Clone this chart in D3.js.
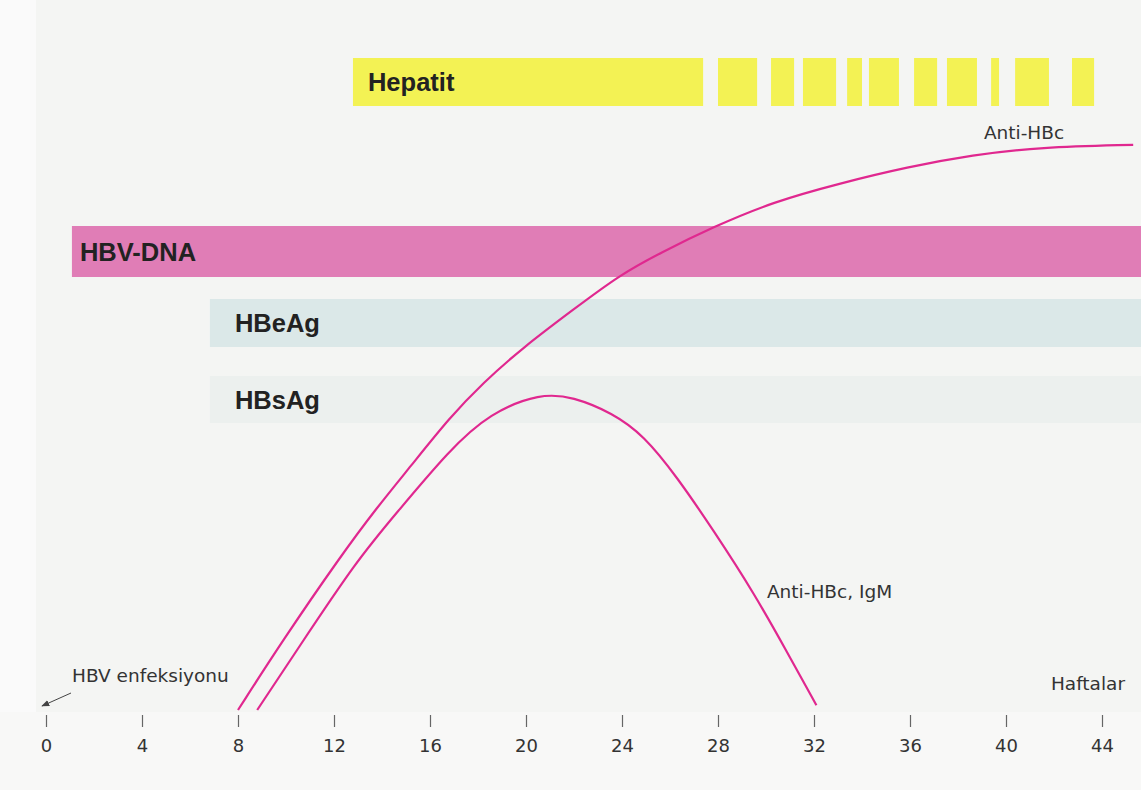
<!DOCTYPE html>
<html>
<head>
<meta charset="utf-8">
<script src="https://cdn.jsdelivr.net/npm/d3@7"></script>
<style>
  html, body { margin: 0; padding: 0; background: #f4f5f3; }
  svg { display: block; font-family: "DejaVu Sans", sans-serif; }
</style>
</head>
<body>
<script>
// weeks after infection
const weekTicks = [0, 4, 8, 12, 16, 20, 24, 28, 32, 36, 40, 44];

// marker bars: [start week, end week]
const rows = ["Hepatit", "HBV-DNA", "HBeAg", "HBsAg"];
const hepatitSpans = [[12.79, 27.38], [28.0, 29.63], [30.21, 31.17], [31.54, 32.92], [33.38, 34.0],
  [34.29, 35.54], [36.17, 37.13], [37.54, 38.79], [39.38, 39.71], [40.38, 41.79], [42.75, 43.67]];
const dnaSpans = [[1.08, 45.8]];
const heSpans = [[6.83, 45.8]];
const hsSpans = [[6.83, 45.8]];

// antibody curves (relative level 0-100)
const antiHBcWeeks = [8.0, 9.88, 12.25, 13.8, 15.17, 16.83, 18.2, 19.9, 21.96, 23.9, 25.6, 27.8, 30.3, 33.1, 35.9, 38.6, 41.4, 45.3];
const antiHBcLevel = [0, 11.7, 25.5, 33.8, 40.5, 48.8, 54.5, 60.5, 66.7, 72.5, 76.2, 80.5, 84.7, 87.8, 90.5, 92.5, 93.8, 94.2];
const igmWeeks = [8.8, 10.46, 12.96, 14.6, 16.8, 18.5, 20.6, 21.96, 23.6, 24.9, 26.3, 27.8, 29.5, 30.9, 32.1];
const igmLevel = [0, 10, 25, 32.8, 43.3, 49.5, 52.8, 52.2, 49.5, 45.8, 38.8, 30, 19.5, 9.5, 0.8];

const width = 1141, height = 790;

const x = d3.scaleLinear().domain([0, 44]).range([46, 1102]);
const y = d3.scaleLinear().domain([0, 100]).range([710, 110]);
const rowY = d3.scaleOrdinal().domain(rows).range([58, 226, 299, 376]);
const rowH = d3.scaleOrdinal().domain(rows).range([48, 51, 48, 47]);
const rowFill = d3.scaleOrdinal().domain(rows).range(["#f3f254", "#e07db6", "#dbe8e8", "#ecf0ee"]);

const svg = d3.select("body").append("svg")
  .attr("width", width)
  .attr("height", height);

// paper tones
svg.append("rect").attr("width", width).attr("height", height).attr("fill", "#f4f5f3");
svg.append("rect").attr("width", 36).attr("height", height).attr("fill", "#fafafa");
svg.append("rect").attr("y", 712).attr("width", width).attr("height", height - 712).attr("fill", "#f8f8f7");

// bars
const spans = { "Hepatit": hepatitSpans, "HBV-DNA": dnaSpans, "HBeAg": heSpans, "HBsAg": hsSpans };
rows.forEach(r => {
  const g = svg.append("g");
  g.selectAll("rect").data(spans[r]).join("rect")
    .attr("x", d => x(d[0]))
    .attr("width", d => x(d[1]) - x(d[0]))
    .attr("y", rowY(r))
    .attr("height", rowH(r))
    .attr("fill", rowFill(r));
  g.append("text")
    .attr("x", x(spans[r][0][0]) + (r === "HBV-DNA" ? 8 : 25) - (r === "Hepatit" ? 10 : 0))
    .attr("y", rowY(r) + rowH(r) / 2 + 9)
    .attr("font-family", "Liberation Sans, Arial, sans-serif")
    .attr("font-size", 25.5)
    .attr("font-weight", "bold")
    .attr("fill", "#222")
    .text(r);
});

// curves
const line = d3.line()
  .x(d => x(d[0]))
  .y(d => y(d[1]))
  .curve(d3.curveBasis);

svg.append("path")
  .attr("d", line(d3.zip(antiHBcWeeks, antiHBcLevel)))
  .attr("fill", "none").attr("stroke", "#e0288f").attr("stroke-width", 2.2);
svg.append("path")
  .attr("d", line(d3.zip(igmWeeks, igmLevel)))
  .attr("fill", "none").attr("stroke", "#e0288f").attr("stroke-width", 2.2);

svg.append("text").attr("x", x(39.08)).attr("y", y(95.2))
  .attr("font-size", 18.5).attr("fill", "#333").text("Anti-HBc");
svg.append("text").attr("x", x(30.04)).attr("y", y(18.7))
  .attr("font-size", 18.5).attr("fill", "#333").text("Anti-HBc, IgM");

// x axis
const axis = svg.append("g")
  .attr("transform", "translate(0,715)")
  .call(d3.axisBottom(x).tickValues(weekTicks).tickSize(12).tickPadding(12));
axis.select(".domain").remove();
axis.selectAll(".tick line").attr("stroke", "#666").attr("stroke-width", 1.2);
axis.selectAll(".tick text").attr("font-size", 18).attr("fill", "#333")
  .attr("font-family", "DejaVu Sans, sans-serif");

svg.append("text").attr("x", 1125).attr("y", 690).attr("text-anchor", "end")
  .attr("font-size", 18.5).attr("fill", "#333").text("Haftalar");

svg.append("text").attr("x", 72).attr("y", 682)
  .attr("font-size", 18.5).attr("fill", "#333").text("HBV enfeksiyonu");

svg.append("defs").append("marker")
  .attr("id", "arr").attr("viewBox", "0 0 10 10").attr("refX", 9).attr("refY", 5)
  .attr("markerWidth", 8).attr("markerHeight", 8).attr("orient", "auto")
  .append("path").attr("d", "M0,1L10,5L0,9Z").attr("fill", "#444");
svg.append("line")
  .attr("x1", 71).attr("y1", 693).attr("x2", 42).attr("y2", 706)
  .attr("stroke", "#444").attr("stroke-width", 1)
  .attr("marker-end", "url(#arr)");
</script>
</body>
</html>
